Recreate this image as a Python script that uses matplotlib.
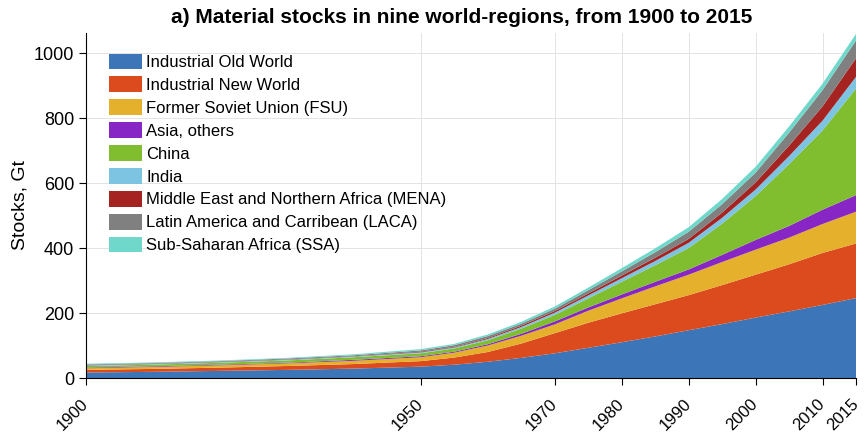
import matplotlib
matplotlib.use("Agg")
from matplotlib import pyplot as plt
from matplotlib.transforms import ScaledTranslation

plt.rcParams['font.family'] = ['Liberation Sans', 'DejaVu Sans']

years = [1900, 1910, 1920, 1930, 1940, 1950, 1955, 1960, 1965, 1970, 1975, 1980,
         1985, 1990, 1995, 2000, 2005, 2010, 2015]

# stocks per region, Gt
old_world = [17, 19, 22, 25, 29, 35, 41, 50, 62, 76, 93, 110, 128, 147, 166, 186, 205, 225, 246]
new_world = [8, 9, 10, 12, 14, 17, 22, 30, 44, 62, 77, 89, 99, 108, 120, 132, 145, 160, 168]
fsu = [5, 6, 7, 8, 10, 12, 15, 20, 24, 27, 37, 46, 55, 63, 71, 77, 82, 89, 98]
asia_others = [2, 2, 2, 2, 3, 3, 3, 4, 6, 9, 10, 12, 14, 16, 22, 30, 36, 44, 51]
china = [5, 5, 6, 7, 8, 9, 10, 12, 16, 20, 28, 39, 51, 66, 96, 135, 190, 244, 328]
india = [2, 2, 2, 2, 2, 3, 3, 4, 5, 7, 9, 11, 13, 16, 18, 20, 25, 30, 36]
mena = [1, 1, 1, 1, 1, 2, 2, 3, 4, 5, 6, 8, 10, 12, 16, 22, 32, 44, 57]
laca = [2, 2, 2, 3, 3, 4, 5, 6, 6, 7, 10, 13, 17, 22, 26, 30, 40, 50, 55]
ssa = [2, 2, 2, 2, 3, 4, 4, 5, 6, 7, 8, 10, 12, 14, 16, 18, 19, 20, 20]

labels = ["Industrial Old World", "Industrial New World", "Former Soviet Union (FSU)",
          "Asia, others", "China", "India", "Middle East and Northern Africa (MENA)",
          "Latin America and Carribean (LACA)", "Sub-Saharan Africa (SSA)"]
colors = ["#3d76b8", "#dc4b1d", "#e5b02b", "#8726c4", "#80bd2f", "#7cc4e2",
          "#a52421", "#808080", "#70d8cb"]

xticks = [1900, 1950, 1970, 1980, 1990, 2000, 2010, 2015]

fig = plt.figure(figsize=(8.65, 4.34), dpi=100)
ax = fig.add_axes([0.0994, 0.129, 0.8902, 0.795])

ax.stackplot(years, old_world, new_world, fsu, asia_others, china, india, mena, laca, ssa,
             labels=labels, colors=colors, linewidth=0)

ax.set_xlim(1900, 2015)
ax.set_ylim(0, 1062)
ax.set_xticks(xticks)
ax.set_xticklabels([str(t) for t in xticks], rotation=45, fontsize=12,
                   ha='right', va='center', rotation_mode='anchor')
# rotated year labels hang just right of their ticks; last one kept inside the figure
xlabels = ax.get_xticklabels()
for i, lbl in enumerate(xlabels):
    dx = 0.09 if i == len(xlabels) - 1 else 0.14
    lbl.set_transform(lbl.get_transform() + ScaledTranslation(dx, 0, fig.dpi_scale_trans))
ax.set_yticks([0, 200, 400, 600, 800, 1000])
ax.tick_params(axis='y', labelsize=13, direction='out', length=5)
ax.tick_params(axis='x', direction='out', length=5, pad=12)
ax.grid(True, color="#e3e3e3", linewidth=0.7)
ax.set_axisbelow(True)
for s in ['top', 'right']:
    ax.spines[s].set_visible(False)

ax.set_ylabel("Stocks, Gt", fontsize=14)
ax.set_title("a) Material stocks in nine world-regions, from 1900 to 2015",
             fontsize=15, fontweight='bold', pad=7, x=0.488)

ax.legend(loc='upper left', bbox_to_anchor=(0.023, 0.955), borderaxespad=0,
          fontsize=12, frameon=False, handlelength=2.0, handleheight=1.08,
          labelspacing=0.38, handletextpad=0.25, borderpad=0.3)

fig.savefig("out.png", dpi=100)
